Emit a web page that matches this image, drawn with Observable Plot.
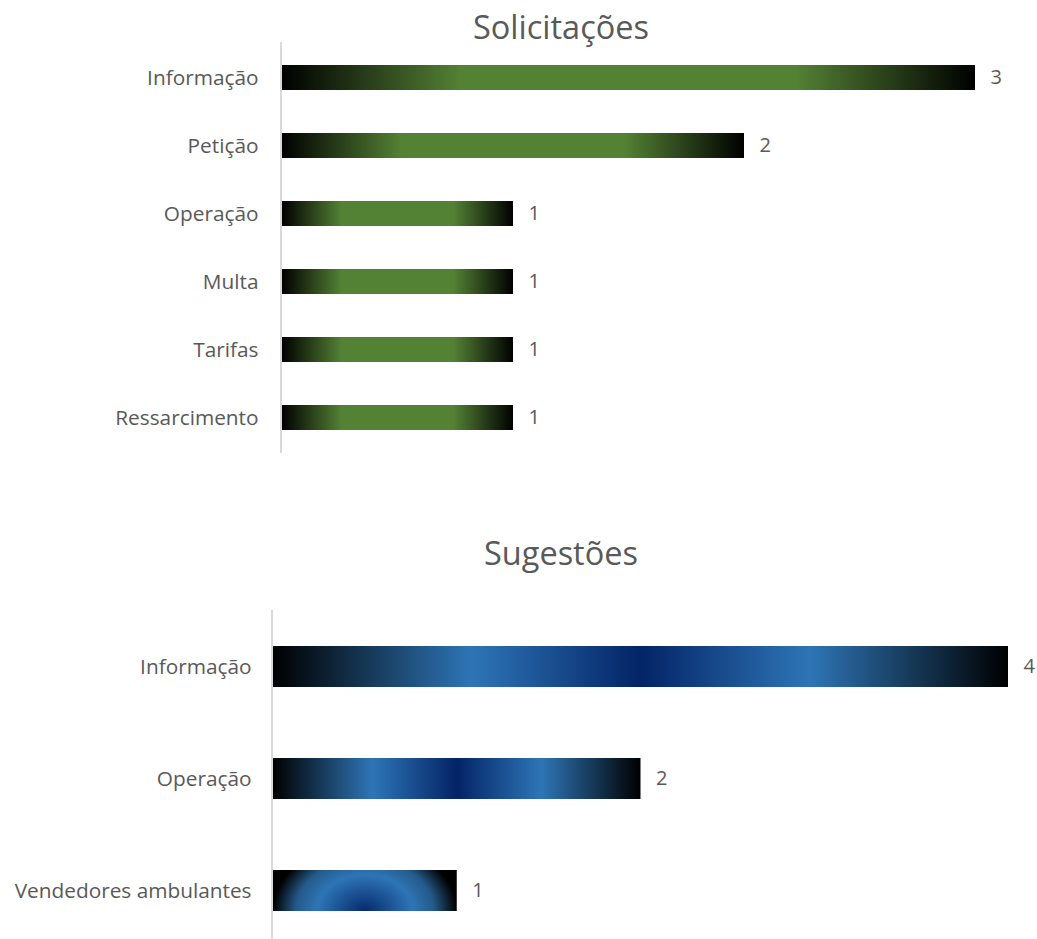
<!DOCTYPE html>
<html>
<head>
<meta charset="utf-8">
<script src="https://cdn.jsdelivr.net/npm/d3@7"></script>
<script src="https://cdn.jsdelivr.net/npm/@observablehq/plot@0.6"></script>
<style>
  html, body { margin: 0; padding: 0; background: #fff; }
  #page { position: relative; width: 1037px; height: 939px; overflow: hidden; font-family: "Open Sans", sans-serif; }
  .title { position: absolute; left: 0; width: 1122px; text-align: center; font-size: 32.5px; color: #595959; line-height: 1; }
  .chart { position: absolute; left: 0; }
</style>
</head>
<body>
<div id="page">
  <div class="title" id="t1" style="top:11px;">Solicitações</div>
  <div class="chart" id="c1" style="top:40px;"></div>
  <div class="title" id="t2" style="top:537px;">Sugestões</div>
  <div class="chart" id="c2" style="top:600px;"></div>
</div>
<script>
// Data
const solicitacoesCategories = ["Informação", "Petição", "Operação", "Multa", "Tarifas", "Ressarcimento"];
const solicitacoesValues = [3, 2, 1, 1, 1, 1];
const sugestoesCategories = ["Informação", "Operação", "Vendedores ambulantes"];
const sugestoesValues = [4, 2, 1];

const rows1 = solicitacoesCategories.map((c, i) => ({category: c, value: solicitacoesValues[i]}));
const rows2 = sugestoesCategories.map((c, i) => ({category: c, value: sugestoesValues[i]}));

function addGradients(svg) {
  const defs = d3.select(svg).insert("defs", ":first-child");
  const g = defs.append("linearGradient").attr("id", "gradGreen").attr("x1", "0").attr("x2", "1").attr("y1", "0").attr("y2", "0");
  [[0, "#000000"], [0.26, "#548235"], [0.74, "#548235"], [1, "#000000"]].forEach(([o, c]) =>
    g.append("stop").attr("offset", o).attr("stop-color", c));
  const b = defs.append("linearGradient").attr("id", "gradBlue").attr("x1", "0").attr("x2", "1").attr("y1", "0").attr("y2", "0");
  [[0, "#000000"], [0.27, "#2E75B6"], [0.5, "#032466"], [0.73, "#2E75B6"], [1, "#000000"]].forEach(([o, c]) =>
    b.append("stop").attr("offset", o).attr("stop-color", c));
  const r = defs.append("radialGradient").attr("id", "gradBlueRadial")
    .attr("cx", "0.5").attr("cy", "1").attr("r", "0.5").attr("fx", "0.5").attr("fy", "1")
    .attr("gradientTransform", "translate(0,1) scale(1,3.4) translate(0,-1)");
  [[0, "#062a6c"], [0.52, "#2E75B6"], [0.75, "#245a8a"], [1, "#000000"]].forEach(([o, c]) =>
    r.append("stop").attr("offset", o).attr("stop-color", c));
}

function makeChart(rows, categories, opts) {
  const svg = Plot.plot({
    width: 1037,
    height: opts.height,
    marginLeft: opts.marginLeft,
    marginRight: opts.marginRight,
    marginTop: opts.marginTop,
    marginBottom: opts.marginBottom,
    style: {fontFamily: "'Open Sans', sans-serif", fontSize: "20px", color: "#595959", background: "transparent"},
    x: {domain: [0, opts.max], axis: null},
    y: {domain: categories, paddingInner: opts.padding, paddingOuter: opts.padding / 2, label: null},
    color: {type: "identity"},
    marks: [
      Plot.barX(rows, {x: "value", y: "category", fill: opts.fill}),
      Plot.axisY({tickSize: 0, tickPadding: opts.tickPadding, fontSize: 20.8, fill: "#595959", label: null}),
      Plot.ruleX([0], {stroke: "#d9d9d9", strokeWidth: 2, dx: -1.5}),
      Plot.text(rows, {x: "value", y: "category", text: d => String(d.value), textAnchor: "start", dx: 15, fill: "#595959", fontSize: 20})
    ]
  });
  addGradients(svg);
  return svg;
}

document.getElementById("c1").appendChild(makeChart(rows1, solicitacoesCategories, {
  height: 420, marginTop: 2, marginBottom: 7, marginLeft: 282, marginRight: 62,
  max: 3, padding: 0.635, tickPadding: 24, fill: () => "url(#gradGreen)"
}));
document.getElementById("c2").appendChild(makeChart(rows2, sugestoesCategories, {
  height: 347, marginTop: 10, marginBottom: 0, marginLeft: 273, marginRight: 29,
  max: 4, padding: 0.636, tickPadding: 22,
  fill: d => d.value === 1 ? "url(#gradBlueRadial)" : "url(#gradBlue)"
}));
</script>
</body>
</html>
